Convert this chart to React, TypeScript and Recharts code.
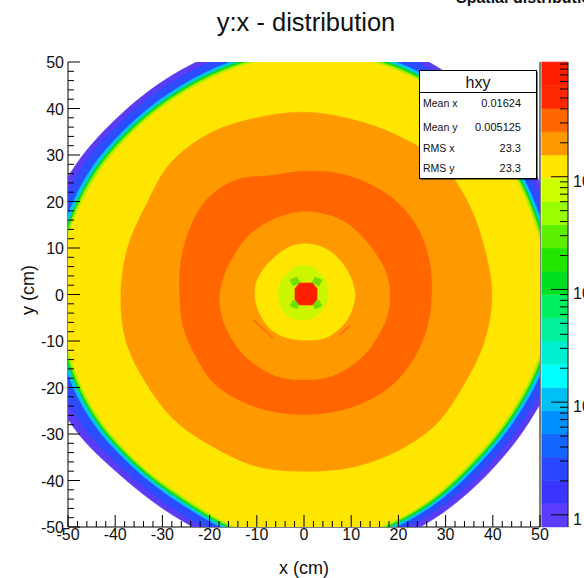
import React from 'react';
import { ScatterChart, Scatter, XAxis, YAxis, ReferenceArea, ReferenceLine } from 'recharts';

const FONT = '"Liberation Sans", Arial, Helvetica, sans-serif';

// ---------- texts ----------
const TITLE = 'y:x - distribution';
const CORNER_TITLE = 'Spatial distribution';
const X_TITLE = 'x (cm)';
const Y_TITLE = 'y (cm)';

// ---------- axes ----------
const AXIS_MAJOR = [-50, -40, -30, -20, -10, 0, 10, 20, 30, 40, 50];
const AXIS_MINOR_STEP = 2;
const AXIS_DOMAIN = [-50, 50];

// ---------- colour bar (log z axis) ----------
const CB_MAJOR = [1, 10, 100, 1000];
const CB_LABEL_BASE = ['1', '10', '10', '10'];
const CB_LABEL_EXP = ['', '', '2', '3'];
const CB_DOMAIN = [0.78, 10420];
const CB_EDGES = [0.78, 1.26, 2.02, 3.25, 5.22, 8.4, 13.5, 21.7, 34.9, 56.1, 90.3, 145, 233, 375, 603, 970, 1559, 2506, 4030, 6486, 10420];
const CB_COLORS = [
  '#5c3cff', '#3a34ff', '#2a46ff', '#1464ff', '#0090ff', '#00bff5', '#00ffff', '#00f0d0', '#00f09c', '#00f060',
  '#00e020', '#22e600', '#5cf000', '#99ff00', '#ccff00', '#ffe600', '#ff9900', '#ff6600', '#ff2800', '#ff1e00',
];
const CB_X = [50.36, 55.83];

// ---------- stats box ----------
const STAT_TITLE = 'hxy';
const STAT_NAMES = ['Mean x', 'Mean y', 'RMS x', 'RMS y'];
const STAT_VALUES = ['0.01624', '0.005125', '23.3', '23.3'];

// ---------- contour boundaries (radius in cm read at each angle) ----------
const ANGLES = [0, 15, 30, 45, 60, 75, 90, 105, 120, 135, 150, 165, 180, 195, 210, 225, 240, 255, 270, 285, 300, 315, 330, 345];
const R_VIOLET = [57.0, 55.5, 55.5, 55.5, 56.5, 56.5, 56.0, 55.3, 54.8, 54.8, 55.8, 57.0, 57.5, 57.2, 56.6, 55.0, 55.0, 56.0, 56.5, 56.5, 55.5, 54.8, 55.0, 56.0];
const R_BLUE = [55.8, 54.3, 54.3, 54.3, 55.3, 55.3, 54.8, 54.1, 53.6, 53.6, 54.5, 55.0, 55.8, 55.2, 54.8, 53.6, 53.8, 54.8, 55.3, 55.2, 54.3, 53.6, 53.8, 54.8];
const R_CYAN = [54.0, 52.8, 52.8, 52.8, 53.6, 53.6, 53.2, 52.5, 51.9, 51.9, 52.6, 53.0, 53.8, 53.0, 52.6, 51.9, 52.0, 53.4, 54.0, 54.0, 53.0, 52.0, 52.2, 53.2];
const R_GREEN = [53.3, 52.2, 52.2, 52.3, 53.0, 53.0, 52.6, 51.9, 51.3, 51.3, 51.9, 52.3, 53.0, 52.3, 51.9, 51.3, 51.4, 52.9, 53.4, 53.4, 52.5, 51.4, 51.6, 52.5];
const R_YG = [52.8, 51.7, 51.8, 51.9, 52.5, 52.5, 52.1, 51.4, 50.8, 50.8, 51.4, 51.9, 52.5, 51.8, 51.4, 50.8, 50.9, 52.5, 53.0, 53.0, 52.0, 50.9, 51.1, 52.0];
const R_YELLOW = [52.3, 51.2, 51.3, 51.4, 52.0, 52.0, 51.6, 50.9, 50.3, 50.3, 50.8, 51.5, 52.0, 51.3, 50.9, 50.4, 50.4, 52.1, 52.6, 52.6, 51.6, 50.4, 50.6, 51.5];
const R_ORANGE_OUT = [39.8, 39.5, 40.0, 40.5, 39.5, 39.0, 39.2, 39.3, 40.0, 40.0, 38.6, 38.7, 38.8, 39.0, 38.5, 38.5, 38.0, 38.3, 38.0, 38.5, 39.0, 39.5, 39.0, 39.5];
const R_DARK_OUT = [27.0, 27.5, 28.0, 28.0, 27.5, 27.0, 26.5, 26.5, 28.5, 29.0, 28.0, 27.0, 26.3, 26.5, 26.5, 27.0, 26.5, 26.0, 25.8, 26.0, 26.5, 27.0, 27.0, 27.0];
const R_DARK_IN = [18.2, 18.0, 17.5, 17.5, 17.8, 17.8, 17.8, 17.5, 17.3, 17.2, 17.0, 17.3, 17.8, 18.0, 18.0, 18.2, 18.3, 18.5, 18.3, 18.5, 18.3, 18.2, 18.0, 18.2];
const R_INNER_YELLOW = [10.8, 10.6, 10.5, 10.6, 10.8, 10.9, 10.9, 10.7, 10.3, 10.1, 10.2, 10.4, 10.4, 10.3, 10.2, 10.3, 10.1, 9.9, 9.8, 10.1, 10.4, 10.5, 10.6, 10.7];
const R_CHARTREUSE = [5.1, 5.2, 5.4, 5.6, 5.9, 6.1, 6.3, 6.1, 5.9, 5.7, 5.6, 5.5, 5.5, 5.5, 5.6, 5.7, 5.7, 5.6, 5.5, 5.4, 5.3, 5.2, 5.1, 5.1];

// central peak (octagon) and the four small green wedges
const RED_X = [-0.9, 1.75, 2.75, 2.75, 1.75, -0.9, -1.91, -1.91];
const RED_Y = [2.47, 2.47, 1.3, -1.1, -2.26, -2.26, -1.1, 1.3];
const BLOBS_X = [
  [-2.97, -1.48, -0.85, -2.33],
  [3.81, 2.33, 1.69, 3.18],
  [-2.97, -1.48, -0.85, -2.33],
  [3.81, 2.33, 1.69, 3.18],
];
const BLOBS_Y = [
  [3.12, 3.76, 2.47, 1.83],
  [3.12, 3.76, 2.47, 1.83],
  [-2.47, -3.12, -1.83, -1.18],
  [-2.47, -3.12, -1.83, -1.18],
];
// thin darker streaks inside the inner orange ring
const STREAKS_X = [[-10.8, -6.6], [7.6, 9.7]];
const STREAKS_Y = [[-5.4, -9.3], [-8.7, -6.7]];

const C = {
  violet: '#5a3cf5',
  blue: '#2b4cff',
  cyan: '#00c4fa',
  green: '#12dc18',
  yg: '#a8f000',
  yellow: '#ffe600',
  orange: '#ff9900',
  dark: '#ff6600',
  chart: '#ccf500',
  blob: '#6fe000',
  red: '#ff2000',
  streak: '#ff6a10',
};

const polar = (radii: number[]) =>
  ANGLES.map((a, i) => ({ x: radii[i] * Math.cos((a * Math.PI) / 180), y: radii[i] * Math.sin((a * Math.PI) / 180) }));
const xy = (xs: number[], ys: number[]) => xs.map((x, i) => ({ x, y: ys[i] }));

// closed Catmull-Rom curve factory (smooth outline through the read points)
const smoothClosed = (context: any) => {
  let pts: number[][] = [];
  return {
    areaStart() {},
    areaEnd() {},
    lineStart() {
      pts = [];
    },
    point(x: number, y: number) {
      pts.push([x, y]);
    },
    lineEnd() {
      const n = pts.length;
      if (!n) return;
      context.moveTo(pts[0][0], pts[0][1]);
      for (let i = 0; i < n; i++) {
        const p0 = pts[(i - 1 + n) % n];
        const p1 = pts[i];
        const p2 = pts[(i + 1) % n];
        const p3 = pts[(i + 2) % n];
        context.bezierCurveTo(
          p1[0] + (p2[0] - p0[0]) / 6,
          p1[1] + (p2[1] - p0[1]) / 6,
          p2[0] - (p3[0] - p1[0]) / 6,
          p2[1] - (p3[1] - p1[1]) / 6,
          p2[0],
          p2[1],
        );
      }
      context.closePath();
    },
  };
};

const CONTOURS = [
  { name: 'violet', color: C.violet, pts: polar(R_VIOLET), smooth: true },
  { name: 'blue', color: C.blue, pts: polar(R_BLUE), smooth: true },
  { name: 'cyan', color: C.cyan, pts: polar(R_CYAN), smooth: true },
  { name: 'green', color: C.green, pts: polar(R_GREEN), smooth: true },
  { name: 'yg', color: C.yg, pts: polar(R_YG), smooth: true },
  { name: 'yellow', color: C.yellow, pts: polar(R_YELLOW), smooth: true },
  { name: 'orange', color: C.orange, pts: polar(R_ORANGE_OUT), smooth: true },
  { name: 'dark', color: C.dark, pts: polar(R_DARK_OUT), smooth: true },
  { name: 'orange2', color: C.orange, pts: polar(R_DARK_IN), smooth: true },
  { name: 'yellow2', color: C.yellow, pts: polar(R_INNER_YELLOW), smooth: true },
  { name: 'chart', color: C.chart, pts: polar(R_CHARTREUSE), smooth: true },
  ...BLOBS_X.map((bx, i) => ({ name: 'blob' + i, color: C.blob, pts: xy(bx, BLOBS_Y[i]), smooth: false })),
  { name: 'red', color: C.red, pts: xy(RED_X, RED_Y), smooth: false },
];

const AXIS_TICKS: number[] = [];
for (let v = AXIS_MAJOR[0]; v <= AXIS_MAJOR[AXIS_MAJOR.length - 1]; v += AXIS_MINOR_STEP) AXIS_TICKS.push(v);
const CB_TICKS: number[] = [];
CB_MAJOR.forEach((m) => {
  for (let k = 1; k <= 9; k++) CB_TICKS.push(m * k);
});
CB_TICKS.push(10000);

const Nothing = () => <g />;

const XTick = (p: any) => {
  const v = p.payload.value;
  const major = AXIS_MAJOR.includes(v);
  return (
    <g>
      <line x1={p.x} x2={p.x} y1={p.y} y2={p.y - (major ? 12 : 6)} stroke="#000" strokeWidth={1} />
      {major && (
        <text x={p.x} y={p.y + 13} textAnchor="middle" fontSize={16} fontFamily={FONT} fill="#111">
          {v}
        </text>
      )}
    </g>
  );
};

const YTick = (p: any) => {
  const v = p.payload.value;
  const major = AXIS_MAJOR.includes(v);
  return (
    <g>
      <line x1={p.x} x2={p.x + (major ? 12 : 6)} y1={p.y} y2={p.y} stroke="#000" strokeWidth={1} />
      {major && (
        <text x={p.x - 4} y={p.y + 6} textAnchor="end" fontSize={16} fontFamily={FONT} fill="#111">
          {v}
        </text>
      )}
    </g>
  );
};

// colour-bar ticks: the axis sits on the frame, its scale is drawn 28px further right
const CB_SHIFT = 28;
const CbTick = (p: any) => {
  const v = p.payload.value;
  const idx = CB_MAJOR.findIndex((m) => Math.abs(m - v) < 1e-6);
  const major = idx >= 0;
  const x = p.x + CB_SHIFT;
  return (
    <g>
      <line x1={x} x2={x - (major ? 17 : 8)} y1={p.y} y2={p.y} stroke="#000" strokeWidth={1} />
      {major && (
        <text x={x + 5} y={p.y + 10} fontSize={16} fontFamily={FONT} fill="#111">
          {CB_LABEL_BASE[idx]}
          {CB_LABEL_EXP[idx] ? (
            <tspan dy={-7} fontSize={11}>
              {CB_LABEL_EXP[idx]}
            </tspan>
          ) : null}
        </text>
      )}
    </g>
  );
};

const ROWS_Y = [107, 131, 152, 172];

const Overlay = () => (
  <svg width={584} height={578} style={{ position: 'absolute', left: 0, top: 0, pointerEvents: 'none' }}>
    <g fontFamily={FONT} fill="#111">
      <text x={306} y={31} textAnchor="middle" fontSize={25.5}>
        {TITLE}
      </text>
      <text x={456} y={3} fontSize={16} fontWeight="bold">
        {CORNER_TITLE}
      </text>
      <text x={304} y={574} textAnchor="middle" fontSize={18}>
        {X_TITLE}
      </text>
      <text transform="translate(34,290) rotate(-90)" textAnchor="middle" fontSize={18}>
        {Y_TITLE}
      </text>
      <rect x={420.5} y={71.5} width={117} height={108} fill="#000" />
      <rect x={419.5} y={70.5} width={117} height={108} fill="#fff" stroke="#000" strokeWidth={1} />
      <line x1={419.5} x2={536.5} y1={92.5} y2={92.5} stroke="#000" strokeWidth={1} />
      <text x={478} y={88} textAnchor="middle" fontSize={16}>
        {STAT_TITLE}
      </text>
      {STAT_NAMES.map((n, i) => (
        <g key={n}>
          <text x={423} y={ROWS_Y[i]} fontSize={10.5}>
            {n}
          </text>
          <text x={521} y={ROWS_Y[i]} fontSize={11} textAnchor="end">
            {STAT_VALUES[i]}
          </text>
        </g>
      ))}
    </g>
  </svg>
);

const renderXTick = (p: any) => <XTick {...p} />;
const renderYTick = (p: any) => <YTick {...p} />;
const renderCbTick = (p: any) => <CbTick {...p} />;
const BLACK_LINE = { stroke: '#000' };
const MARGIN = { top: 62, right: 0, bottom: 0, left: 0 };

export default function App() {
  return (
    <div style={{ position: 'absolute', left: 0, top: 0, width: 584, height: 578, background: '#fff' }}>
      <ScatterChart width={584} height={578} margin={MARGIN}>
        <XAxis
          dataKey="x"
          type="number"
          domain={AXIS_DOMAIN}
          allowDataOverflow
          height={51}
          ticks={AXIS_TICKS}
          interval={0}
          tickSize={0}
          tickMargin={0}
          tickLine={false}
          tick={renderXTick}
          axisLine={BLACK_LINE}
        />
        <XAxis xAxisId="top" orientation="top" type="number" domain={AXIS_DOMAIN} height={0} tick={false} tickLine={false} axisLine={BLACK_LINE} />
        <YAxis
          dataKey="y"
          type="number"
          domain={AXIS_DOMAIN}
          allowDataOverflow
          width={68}
          ticks={AXIS_TICKS}
          interval={0}
          tickSize={0}
          tickMargin={0}
          tickLine={false}
          tick={renderYTick}
          axisLine={BLACK_LINE}
        />
        <YAxis
          yAxisId="cb"
          orientation="right"
          type="number"
          scale="log"
          domain={CB_DOMAIN}
          allowDataOverflow
          width={44}
          ticks={CB_TICKS}
          interval={0}
          tickSize={0}
          tickMargin={0}
          tickLine={false}
          tick={renderCbTick}
          axisLine={BLACK_LINE}
        />
        {CONTOURS.map((c) => (
          <Scatter
            key={c.name}
            data={c.pts}
            fill={c.color}
            line={{ fill: c.color, stroke: c.color, strokeWidth: 0.6 }}
            lineJointType={(c.smooth ? smoothClosed : 'linearClosed') as any}
            shape={Nothing}
            legendType="none"
            isAnimationActive={false}
          />
        ))}
        {STREAKS_X.map((sx, i) => (
          <Scatter
            key={'streak' + i}
            data={xy(sx, STREAKS_Y[i])}
            fill={C.streak}
            line={{ stroke: C.streak, strokeWidth: 1.5 }}
            lineJointType="linear"
            shape={Nothing}
            legendType="none"
            isAnimationActive={false}
          />
        ))}
        {CB_COLORS.map((col, i) => (
          <ReferenceArea
            key={'cb' + i}
            yAxisId="cb"
            x1={CB_X[0]}
            x2={CB_X[1]}
            y1={CB_EDGES[i]}
            y2={CB_EDGES[i + 1]}
            fill={col}
            fillOpacity={1}
            stroke={col}
            strokeWidth={0.5}
            ifOverflow="visible"
          />
        ))}
        <ReferenceLine yAxisId="cb" x={CB_X[1] + 0.1} stroke="#000" ifOverflow="visible" />
      </ScatterChart>
      <Overlay />
    </div>
  );
}
